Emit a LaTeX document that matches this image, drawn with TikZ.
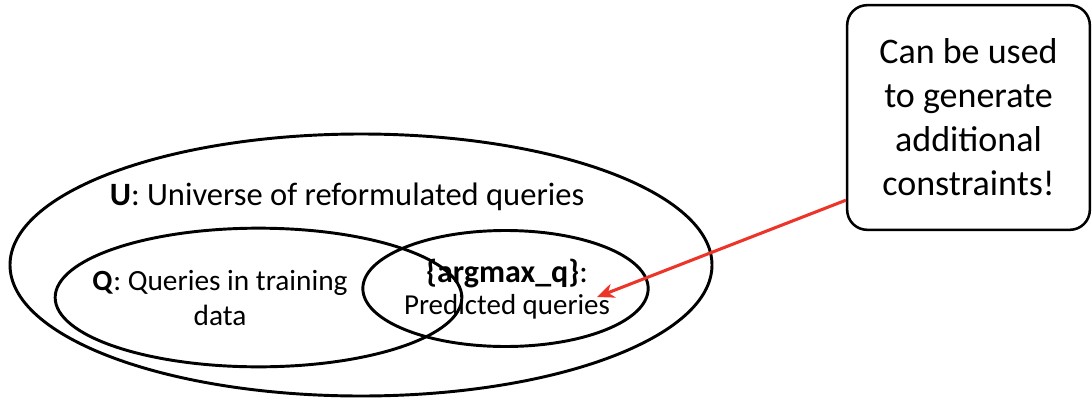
\documentclass[tikz,border=0pt]{standalone}
\usepackage{fontspec}
\setmainfont{Carlito}
\usetikzlibrary{shapes.geometric,arrows.meta}
\definecolor{callred}{RGB}{236,52,40}
\tikzset{
  setline/.style={draw=black, line width=2.2pt, ellipse, inner sep=0pt},
  lbl/.style={align=center, inner sep=0pt, font=\fontsize{22pt}{26pt}\selectfont},
  notebox/.style={draw=black, line width=1.9pt, rounded corners=15pt,
    minimum width=182pt, minimum height=168.5pt, align=center,
    font=\fontsize{27pt}{33pt}\selectfont},
  callout/.style={draw=callred, line width=2.3pt,
    -{Stealth[length=13pt, width=11pt]}}
}
\begin{document}
\begin{tikzpicture}[x=0.75pt, y=-0.75pt]
  \useasboundingbox (0,0) rectangle (1092,400);
  % nested sets
  \node[setline, minimum width=526.5pt, minimum height=196.5pt] (U) at (361,265) {};
  \node[setline, minimum width=305pt, minimum height=104pt] (Q) at (258.5,297.5) {};
  \node[setline, minimum width=214pt, minimum height=87pt] (A) at (505.5,288.5) {};
  % set labels
  \node[lbl, font=\fontsize{24.4pt}{28pt}\selectfont] (Ul) at (347,197) {\textbf{U}: Universe of reformulated queries};
  \node[lbl] (Ql) at (220,298) {\textbf{Q}: Queries in training\\data};
  \node[lbl, font=\fontsize{21.7pt}{24pt}\selectfont] (Al) at (507,289)
    {{\fontsize{24pt}{24pt}\selectfont\textbf{\{argmax\_q\}}:}\\Predicted queries};
  % remark box
  \node[notebox] (note) at (968.5,117.5) {Can be used\\to generate\\additional\\constraints!};
  \coordinate (tip) at (597,297);
  \draw[callout] (note.214) -- (tip);
\end{tikzpicture}
\end{document}
